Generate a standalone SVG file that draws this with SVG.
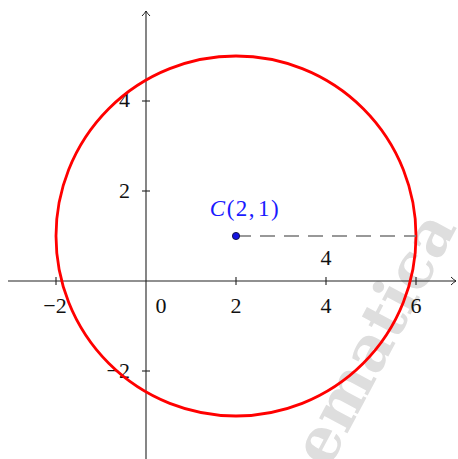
<svg xmlns="http://www.w3.org/2000/svg" width="458" height="459" viewBox="0 0 458 459">
<style>
.lbl{font-family:"Liberation Serif","DejaVu Serif",serif;font-size:22px;fill:#111}
.ax{stroke:#222;stroke-width:1.1;fill:none}
.tick{stroke:#222;stroke-width:1.1}
.wm{font-family:"DejaVu Serif",serif;font-weight:bold;font-size:62px;fill:#dedede}
</style>
<defs>
<marker id="arr" viewBox="-6 -5 8 10" markerWidth="8" markerHeight="10" refX="0" refY="0" orient="auto" markerUnits="userSpaceOnUse">
<path d="M-5,-4 Q-2,-1 0,0 Q-2,1 -5,4" fill="none" stroke="#222" stroke-width="1"/>
</marker>
</defs>
<rect width="458" height="459" fill="#fff"/>
<text class="wm" transform="translate(328,470) rotate(-62)">ematica</text>
<g id="axes">
<line class="ax" x1="8" y1="281" x2="456" y2="281" marker-end="url(#arr)"/>
<line class="ax" x1="146" y1="459" x2="146" y2="11" marker-end="url(#arr)"/>
<g id="xticks">
<line class="tick" x1="56" y1="277" x2="56" y2="285"/>
<line class="tick" x1="236" y1="277" x2="236" y2="285"/>
<line class="tick" x1="326" y1="277" x2="326" y2="285"/>
<line class="tick" x1="416" y1="277" x2="416" y2="285"/>
</g>
<g id="yticks">
<line class="tick" x1="142" y1="101" x2="150" y2="101"/>
<line class="tick" x1="142" y1="191" x2="150" y2="191"/>
<line class="tick" x1="142" y1="371" x2="150" y2="371"/>
</g>
<g id="axis-labels">
<text class="lbl" x="55" y="313" text-anchor="middle">−2</text>
<text class="lbl" x="161" y="313" text-anchor="middle">0</text>
<text class="lbl" x="236" y="313" text-anchor="middle">2</text>
<text class="lbl" x="326" y="313" text-anchor="middle">4</text>
<text class="lbl" x="416" y="313" text-anchor="middle">6</text>
<text class="lbl" x="130" y="107" text-anchor="end">4</text>
<text class="lbl" x="130" y="198" text-anchor="end">2</text>
<text class="lbl" x="130" y="378" text-anchor="end">−2</text>
</g>
</g>
<g id="circle">
<circle cx="236" cy="236" r="180" fill="none" stroke="#ff0000" stroke-width="2.8"/>
</g>
<g id="connectors">
<line x1="236" y1="236" x2="416" y2="236" stroke="#777" stroke-width="1.5" stroke-dasharray="15 9"/>
</g>
<g id="radius-label">
<text class="lbl" x="326" y="265" text-anchor="middle">4</text>
</g>
<g id="center">
<circle cx="236" cy="236" r="3.6" fill="#1515e0" stroke="#101040" stroke-width="0.9"/>
<text class="lbl" x="245" y="216" text-anchor="middle" style="fill:#1a1aff;font-size:23px;letter-spacing:1.5px"><tspan font-style="italic">C</tspan>(2,<tspan dx="2">1)</tspan></text>
</g>
</svg>
